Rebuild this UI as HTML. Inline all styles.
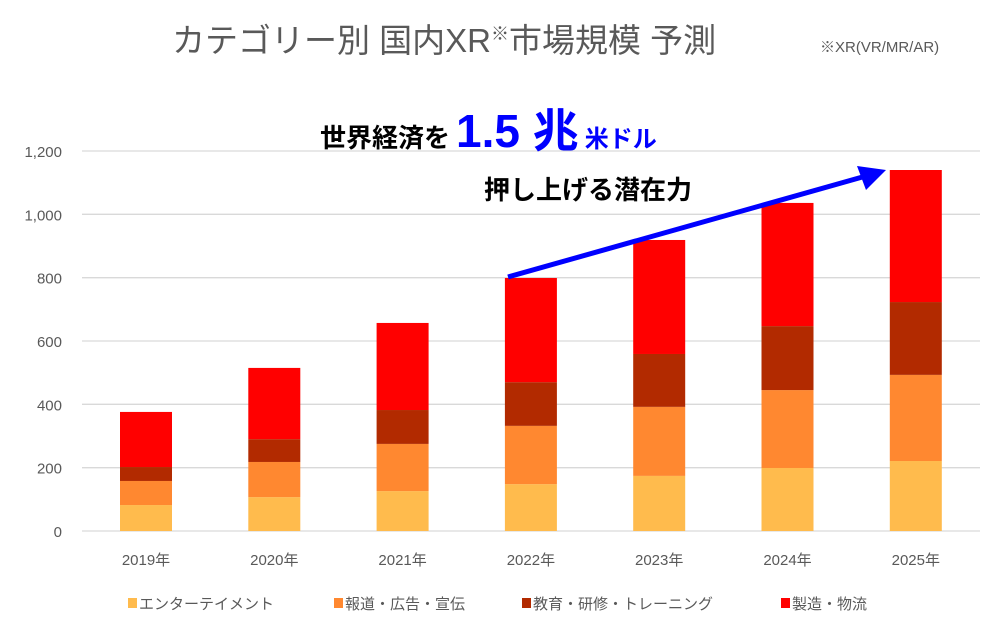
<!DOCTYPE html>
<html><head><meta charset="utf-8"><style>
body{margin:0;background:#fff;}
svg text{font-family:"Liberation Sans","Noto Sans CJK JP",sans-serif;}
</style></head><body>
<svg width="1000" height="633" viewBox="0 0 1000 633">
<text x="172" y="52" font-size="33" fill="#595959">カテゴリー別 国内XR<tspan font-size="18" dy="-12">※</tspan><tspan dy="12">市場規模 予測</tspan></text>
<text x="820" y="52" font-size="15" fill="#595959">※XR(VR/MR/AR)</text>
<g id="grid"></g>
<g id="yticks"></g>
<g id="bars"></g>
<g id="xticks"></g>
<line x1="508" y1="277" x2="866" y2="176" stroke="#0000ff" stroke-width="5"/>
<polygon points="886,170 857,166 866,190" fill="#0000ff"/>
<text x="320" y="147" font-size="26" font-weight="bold" fill="#000">世界経済を<tspan font-size="46" fill="#0000ff" dx="6">1.5 兆</tspan><tspan font-size="24" fill="#0000ff" dx="6">米ドル</tspan></text>
<text x="484" y="199" font-size="26" font-weight="bold" fill="#000">押し上げる潜在力</text>
<g id="legend"></g>
</svg>
<script>
const categories=["2019年","2020年","2021年","2022年","2023年","2024年","2025年"];
const entertainment=[82,107,126,148,174,199,221];
const advertising=[76,111,149,184,218,246,272];
const education=[44,72,107,138,167,202,230];
const manufacturing=[174,225,275,329,360,389,417];
const yTicks=[0,200,400,600,800,1000,1200];
const yTickLabels=["0","200","400","600","800","1,000","1,200"];
const seriesNames=["エンターテイメント","報道・広告・宣伝","教育・研修・トレーニング","製造・物流"];
const series=[entertainment,advertising,education,manufacturing];
const colors=["#FFBB4D","#FF8830","#B22A00","#FF0000"];
const NS="http://www.w3.org/2000/svg";
const y=v=>531-v*(380/1200);
const x=i=>146+i*128.3;
function mk(t,a,p){const e=document.createElementNS(NS,t);for(const k in a)e.setAttribute(k,a[k]);p.appendChild(e);return e;}
const grid=document.getElementById('grid'),yt=document.getElementById('yticks');
yTicks.forEach((v,i)=>{
 const l=mk('line',{x1:82,x2:980,y1:y(v),y2:y(v),stroke:'#d9d9d9','stroke-width':1.3},grid);
 
 
 const t=mk('text',{x:62,y:y(v)+6,'text-anchor':'end','font-size':15,fill:'#595959'},yt);
 t.textContent=yTickLabels[i];
 
 
});
const bars=document.getElementById('bars'),xt=document.getElementById('xticks');
categories.forEach((c,i)=>{
 let base=0;
 series.forEach((s,j)=>{
  const r=mk('rect',{x:x(i)-26,width:52,y:y(base+s[i]),height:y(base)-y(base+s[i]),fill:colors[j]},bars);
  
  
  base+=s[i];
 });
 const t=mk('text',{x:x(i),y:565,'text-anchor':'middle','font-size':15,fill:'#595959'},xt);
 t.textContent=c;
 
 
});
const lg=document.getElementById('legend');
const lx=[128,334,522,781];
seriesNames.forEach((n,j)=>{
 const r=mk('rect',{x:lx[j],y:598,width:9,height:10,fill:colors[j]},lg);
 
 
 const t=mk('text',{x:lx[j]+11,y:609,'font-size':15,fill:'#595959'},lg);
 t.textContent=n;
 
 
});
</script>
</body></html>
